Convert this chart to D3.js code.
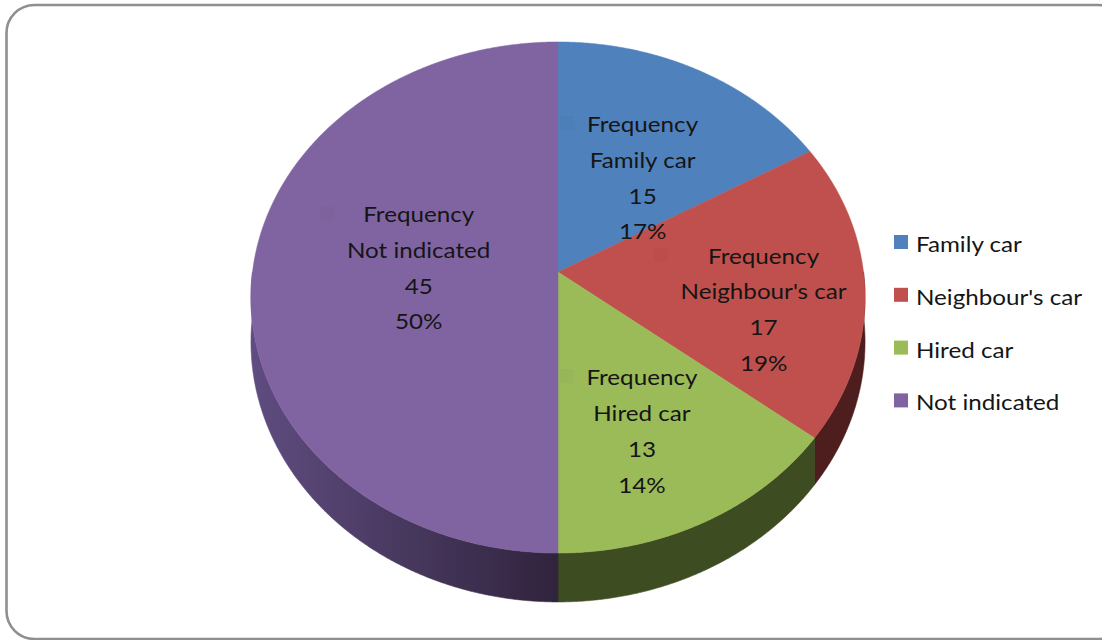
<!DOCTYPE html>
<html>
<head>
<meta charset="utf-8">
<script src="https://cdn.jsdelivr.net/npm/d3@7"></script>
<style>
  html, body { margin: 0; padding: 0; background: #ffffff; }
  svg { display: block; }
  text { font-family: Lato, "Open Sans", "DejaVu Sans", sans-serif; fill: #151515; }
</style>
</head>
<body>
<svg id="chart" width="1102" height="640"></svg>
<script>
// ---- data ----
const categories = ["Family car", "Neighbour's car", "Hired car", "Not indicated"];
const frequencies = [15, 17, 13, 45];
const seriesName = "Frequency";

// ---- styling ----
const faceColor = d3.scaleOrdinal(categories, ["#4F81BD", "#C0504D", "#9BBB59", "#8064A2"]);
const wallColor = d3.scaleOrdinal(categories, ["#2a4670", "#4e1e1e", "#3e4c22", "url(#wallPurple)"]);

const svg = d3.select("#chart");

// rounded chart-area frame
svg.append("rect")
  .attr("x", 6.5).attr("y", 5).attr("width", 1120).attr("height", 634)
  .attr("rx", 28).attr("ry", 28)
  .attr("fill", "#fff").attr("stroke", "#8f8f8f").attr("stroke-width", 2.6);

const defs = svg.append("defs");
const g1 = defs.append("linearGradient").attr("id", "wallPurple")
  .attr("gradientUnits", "userSpaceOnUse")
  .attr("x1", 252).attr("y1", 0).attr("x2", 560).attr("y2", 0);
g1.append("stop").attr("offset", 0).attr("stop-color", "#5f4c80");
g1.append("stop").attr("offset", 0.55).attr("stop-color", "#45365b");
g1.append("stop").attr("offset", 1).attr("stop-color", "#30233c");

// ---- perspective projection of the tilted disc ----
// theta: 0 at 12 o'clock, clockwise; r: fraction of radius; h: 0 = top face, 1 = base
const cx = 558, cy = 272, A = 305.5, B = 253, persp = 0.0998, depth = 44;
function project(theta, r, h = 0) {
  const X = r * Math.sin(theta), D = r * Math.cos(theta);
  const s = 1 / (1 + persp * D);
  const sEdge = 1 / (1 + persp * Math.cos(theta));
  return [cx + A * X * s, cy - B * D * s + depth * sEdge * h];
}

const pie = d3.pie().sort(null).value(d => d.value);
const arcs = pie(categories.map((c, i) => ({ name: c, value: frequencies[i] })));
const total = d3.sum(frequencies);
const line = d3.line();
const step = Math.PI / 720;

function sampleAngles(a0, a1) {
  const n = Math.max(2, Math.ceil((a1 - a0) / step));
  return d3.range(n + 1).map(k => a0 + (a1 - a0) * k / n);
}

// ---- outer walls (front half only) ----
const walls = svg.append("g");
arcs.forEach(a => {
  const a0 = Math.max(a.startAngle, Math.PI / 2);
  const a1 = Math.min(a.endAngle, 3 * Math.PI / 2);
  if (a1 <= a0) return;
  const angs = sampleAngles(a0, a1);
  const pts = angs.map(t => project(t, 1, 0))
    .concat(angs.slice().reverse().map(t => project(t, 1, 1)));
  walls.append("path")
    .attr("d", line(pts) + "Z")
    .attr("fill", wallColor(a.data.name))
    .attr("stroke", wallColor(a.data.name)).attr("stroke-width", 0.6);
});

// ---- top faces ----
const faces = svg.append("g");
arcs.forEach(a => {
  const pts = [project(0, 0)].concat(sampleAngles(a.startAngle, a.endAngle).map(t => project(t, 1)));
  faces.append("path")
    .attr("d", line(pts) + "Z")
    .attr("fill", faceColor(a.data.name))
    .attr("stroke", faceColor(a.data.name)).attr("stroke-width", 0.5);
});

// ---- data labels ----
const fontSize = 22, lineGap = 35.8, stretch = 1.1;
const labelNudge = [[-2.5, -15], [22, -19], [-1, -31], [44, -50]];
const labels = svg.append("g");
arcs.forEach((a, i) => {
  const mid = (a.startAngle + a.endAngle) / 2;
  const p = project(mid, 0.6);
  const x = p[0] + labelNudge[i][0], y = p[1] + labelNudge[i][1];
  const lines = [seriesName, a.data.name, String(a.data.value), Math.round(a.data.value / total * 100) + "%"];
  const grp = labels.append("g").attr("transform", `translate(${x},${y}) scale(${stretch},1)`);
  let widest = 0;
  lines.forEach((t, k) => {
    const el = grp.append("text")
      .attr("x", 0).attr("y", k * lineGap)
      .attr("text-anchor", "middle")
      .attr("font-size", fontSize)
      .text(t);
    widest = Math.max(widest, el.node().getComputedTextLength() * stretch);
  });
  // faint key swatch at the left of the label block
  labels.insert("rect", ":first-child")
    .attr("x", x - widest / 2 - 27).attr("y", y - 16)
    .attr("width", 14).attr("height", 14)
    .attr("fill", d3.color(faceColor(a.data.name)).darker(0.07));
});

// ---- legend ----
const legend = svg.append("g").attr("transform", "translate(894,252)");
categories.forEach((c, i) => {
  const row = legend.append("g").attr("transform", `translate(0,${i * 52.8})`);
  row.append("rect").attr("x", 0).attr("y", -17).attr("width", 14).attr("height", 14)
    .attr("fill", faceColor(c));
  row.append("text").attr("transform", `translate(22,0) scale(${stretch},1)`)
    .attr("font-size", fontSize).text(c);
});
</script>
</body>
</html>
